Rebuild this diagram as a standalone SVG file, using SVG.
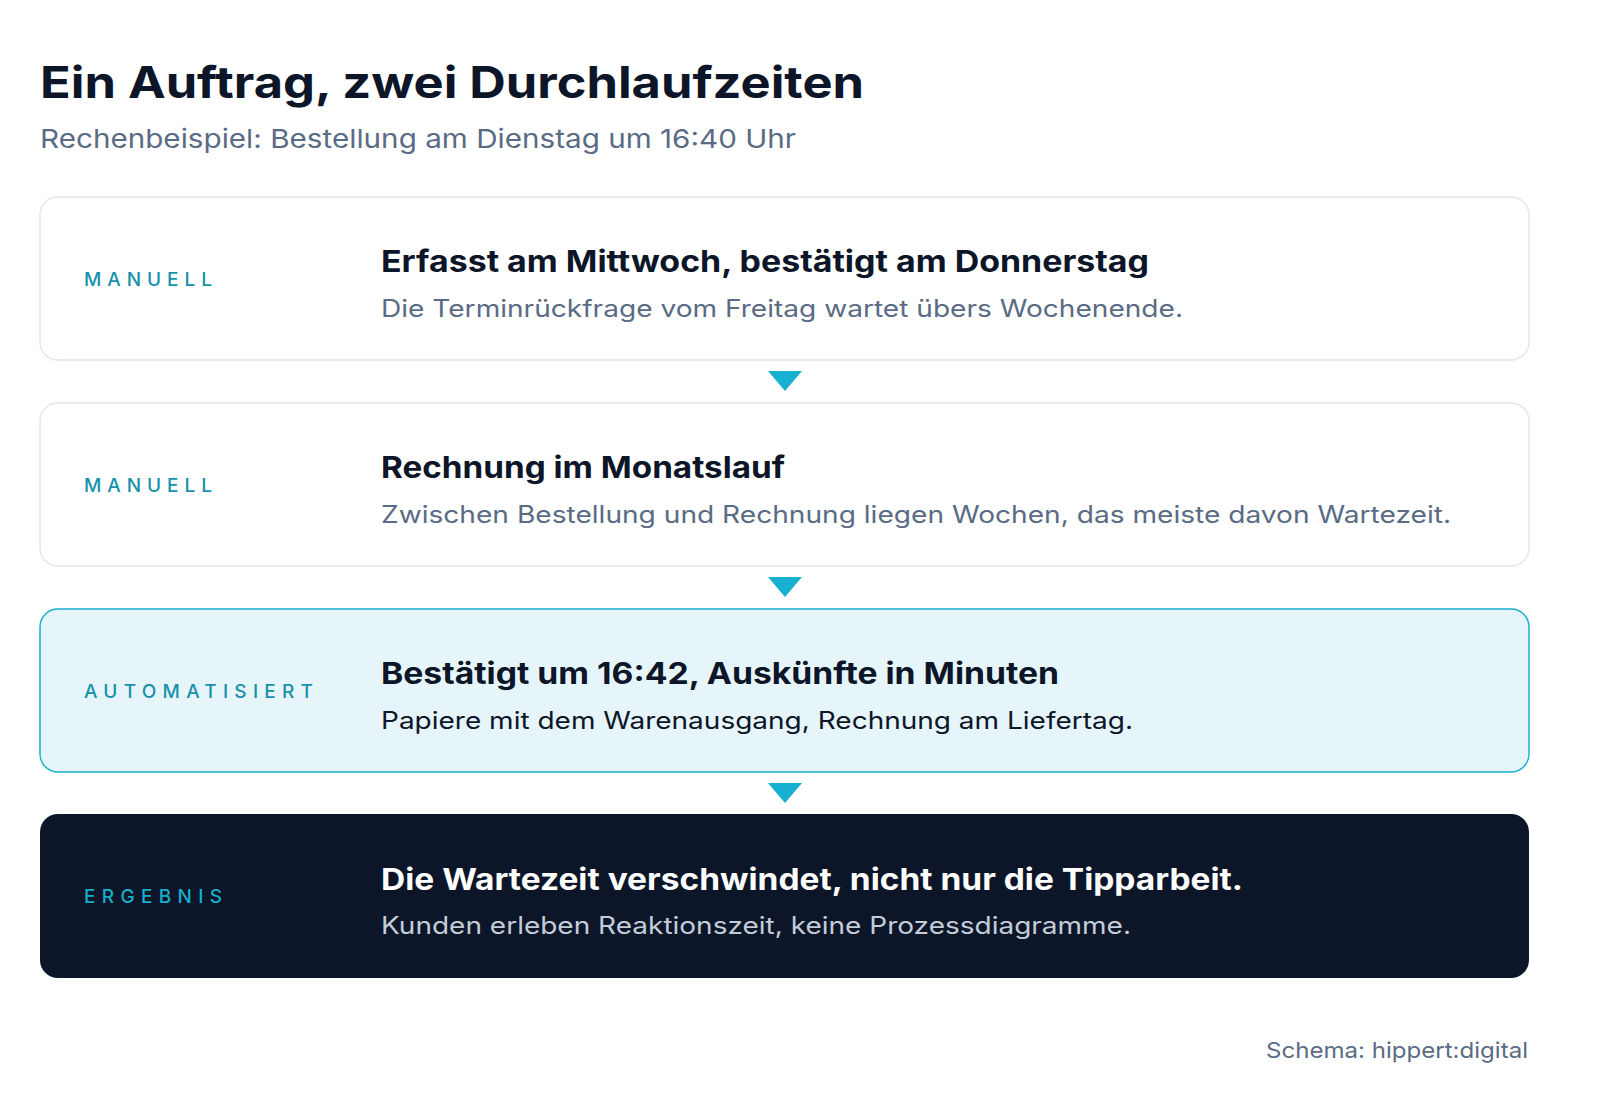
<svg xmlns="http://www.w3.org/2000/svg" width="1600" height="1118" viewBox="0 0 1600 1118">
<style>
text{font-family:Inter,"Liberation Sans","DejaVu Sans",sans-serif}
.title{font-size:44px;font-weight:700;fill:#0c1628}
.subtitle{font-size:26px;fill:#5a6b85}
.lbl{font-size:19px;font-weight:500;fill:#1591ab;letter-spacing:5px}
.head{font-size:30px;font-weight:700;fill:#0c1628}
.sub{font-size:24px;fill:#5a6b85}
.box{fill:#ffffff;stroke:#e2e8f0;stroke-width:1.5}
.auto{fill:#e6f5fa;stroke:#1aafce;stroke-width:1.5}
.dark{fill:#0c1628}
.arr{fill:#18b0d0}
.foot{font-size:22px;fill:#5a6b85}
</style>
<rect width="1600" height="1118" fill="#ffffff"/>
<text class="title" x="40" y="98" textLength="824" lengthAdjust="spacingAndGlyphs">Ein Auftrag, zwei Durchlaufzeiten</text>
<text class="subtitle" x="40" y="148" textLength="756" lengthAdjust="spacingAndGlyphs">Rechenbeispiel: Bestellung am Dienstag um 16:40 Uhr</text>

<g id="connectors">
<polygon class="arr" points="768,371 802,371 785,391"/>
<polygon class="arr" points="768,577 802,577 785,597"/>
<polygon class="arr" points="768,783 802,783 785,803"/>
</g>

<g id="node-manuell-1">
<rect class="box" x="40" y="197" width="1489" height="163" rx="18"/>
<text class="lbl" x="84" y="286" textLength="133" lengthAdjust="spacing">MANUELL</text>
<text class="head" x="381" y="272" textLength="768" lengthAdjust="spacingAndGlyphs">Erfasst am Mittwoch, bestätigt am Donnerstag</text>
<text class="sub" x="381" y="317" textLength="802" lengthAdjust="spacingAndGlyphs">Die Terminrückfrage vom Freitag wartet übers Wochenende.</text>
</g>

<g id="node-manuell-2">
<rect class="box" x="40" y="403" width="1489" height="163" rx="18"/>
<text class="lbl" x="84" y="492" textLength="133" lengthAdjust="spacing">MANUELL</text>
<text class="head" x="381" y="478" textLength="404" lengthAdjust="spacingAndGlyphs">Rechnung im Monatslauf</text>
<text class="sub" x="381" y="523" textLength="1070" lengthAdjust="spacingAndGlyphs">Zwischen Bestellung und Rechnung liegen Wochen, das meiste davon Wartezeit.</text>
</g>

<g id="node-automatisiert">
<rect class="auto" x="40" y="609" width="1489" height="163" rx="18"/>
<text class="lbl" x="84" y="698" textLength="234" lengthAdjust="spacing">AUTOMATISIERT</text>
<text class="head" x="381" y="684" textLength="678" lengthAdjust="spacingAndGlyphs">Bestätigt um 16:42, Auskünfte in Minuten</text>
<text class="sub" x="381" y="729" textLength="752" lengthAdjust="spacingAndGlyphs" style="fill:#0c1628">Papiere mit dem Warenausgang, Rechnung am Liefertag.</text>
</g>

<g id="node-ergebnis">
<rect class="dark" x="40" y="814" width="1489" height="164" rx="18"/>
<text class="lbl" x="84" y="903" textLength="143" lengthAdjust="spacing" style="fill:#17aecc">ERGEBNIS</text>
<text class="head" x="381" y="890" textLength="862" lengthAdjust="spacingAndGlyphs" style="fill:#ffffff">Die Wartezeit verschwindet, nicht nur die Tipparbeit.</text>
<text class="sub" x="381" y="934" textLength="750" lengthAdjust="spacingAndGlyphs" style="fill:#c3ccd9">Kunden erleben Reaktionszeit, keine Prozessdiagramme.</text>
</g>

<text class="foot" x="1266" y="1058" textLength="262" lengthAdjust="spacingAndGlyphs">Schema: hippert:digital</text>
</svg>
